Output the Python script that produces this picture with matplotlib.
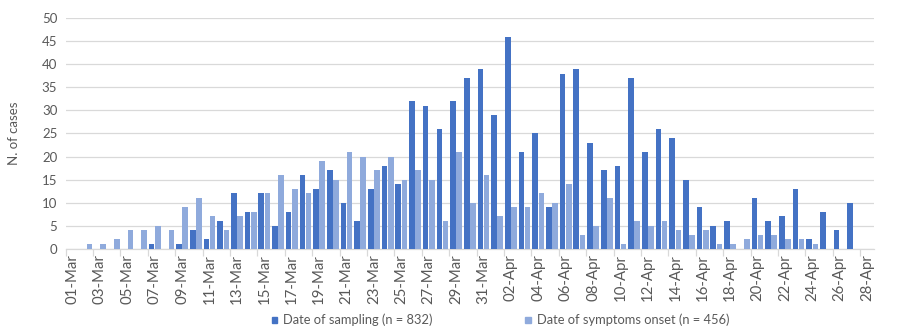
import numpy as np
import pandas as pd
import matplotlib
matplotlib.use("Agg")
import matplotlib.pyplot as plt
from matplotlib.patches import Patch

plt.rcParams['font.family'] = ['Lato', 'DejaVu Sans']

# one entry per day, 01-Mar .. 28-Apr
days = pd.date_range('2020-03-01', '2020-04-28').strftime('%d-%b').tolist()

sampling = [0, 0, 0, 0, 0, 0, 1, 0, 1, 4, 2, 6, 12, 8, 12, 5, 8, 16, 13, 17,
            10, 6, 13, 18, 14, 32, 31, 26, 32, 37, 39,
            29, 46, 21, 25, 9, 38, 39, 23, 17, 18, 37, 21, 26, 24, 15, 9, 5, 6,
            0, 11, 6, 7, 13, 2, 8, 4, 10, 0]
onset = [0, 1, 1, 2, 4, 4, 5, 4, 9, 11, 7, 4, 7, 8, 12, 16, 13, 12, 19, 15,
         21, 20, 17, 20, 15, 17, 15, 6, 21, 10, 16,
         7, 9, 9, 12, 10, 14, 3, 5, 11, 1, 6, 5, 6, 4, 3, 4, 1, 1,
         2, 3, 3, 2, 2, 1, 0, 0, 0, 0]

dark = '#4472C4'
light = '#8FAADC'
grey_text = '#595959'
grid = '#D9D9D9'

fig = plt.figure(figsize=(9, 3.36), dpi=100)
ax = fig.add_axes([0.073, 0.26, 0.898, 0.6855])

x = np.arange(len(days))
w = 0.41
ax.bar(x - 0.225, sampling, width=w, color=dark, zorder=3)
ax.bar(x + 0.225, onset, width=w, color=light, zorder=3)

ax.set_xlim(-0.5, len(days) - 0.5)
ax.set_ylim(0, 50)
ax.set_yticks(range(0, 51, 5))
ax.yaxis.grid(True, color=grid, linewidth=0.9, zorder=0)
ax.tick_params(axis='y', length=0, labelsize=9.5, labelcolor=grey_text, pad=6)
ax.set_ylabel('N. of cases', fontsize=9.5, color=grey_text, labelpad=16)

ax.set_xticks(x[::2])
ax.set_xticklabels(days[::2], rotation=90, fontsize=10.8, color=grey_text)
ax.tick_params(axis='x', which='major', length=0, pad=4)
ax.set_xticks(np.arange(-0.5, len(days) - 1, 2), minor=True)
ax.tick_params(axis='x', which='minor', length=5, color=grid, width=0.9)

for s in ['top', 'right', 'left']:
    ax.spines[s].set_visible(False)
ax.spines['bottom'].set_color(grid)
ax.spines['bottom'].set_linewidth(0.9)

handles = [Patch(color=dark, label='Date of sampling (n = 832)'),
           Patch(color=light, label='Date of symptoms onset (n = 456)')]
fig.legend(handles=handles, loc='center', bbox_to_anchor=(0.556, 0.047), ncol=2,
           frameon=False, fontsize=9.3, labelcolor=grey_text, handlelength=0.42,
           handleheight=0.42, handletextpad=0.45, columnspacing=7.2)

fig.savefig('out.png', dpi=100)
